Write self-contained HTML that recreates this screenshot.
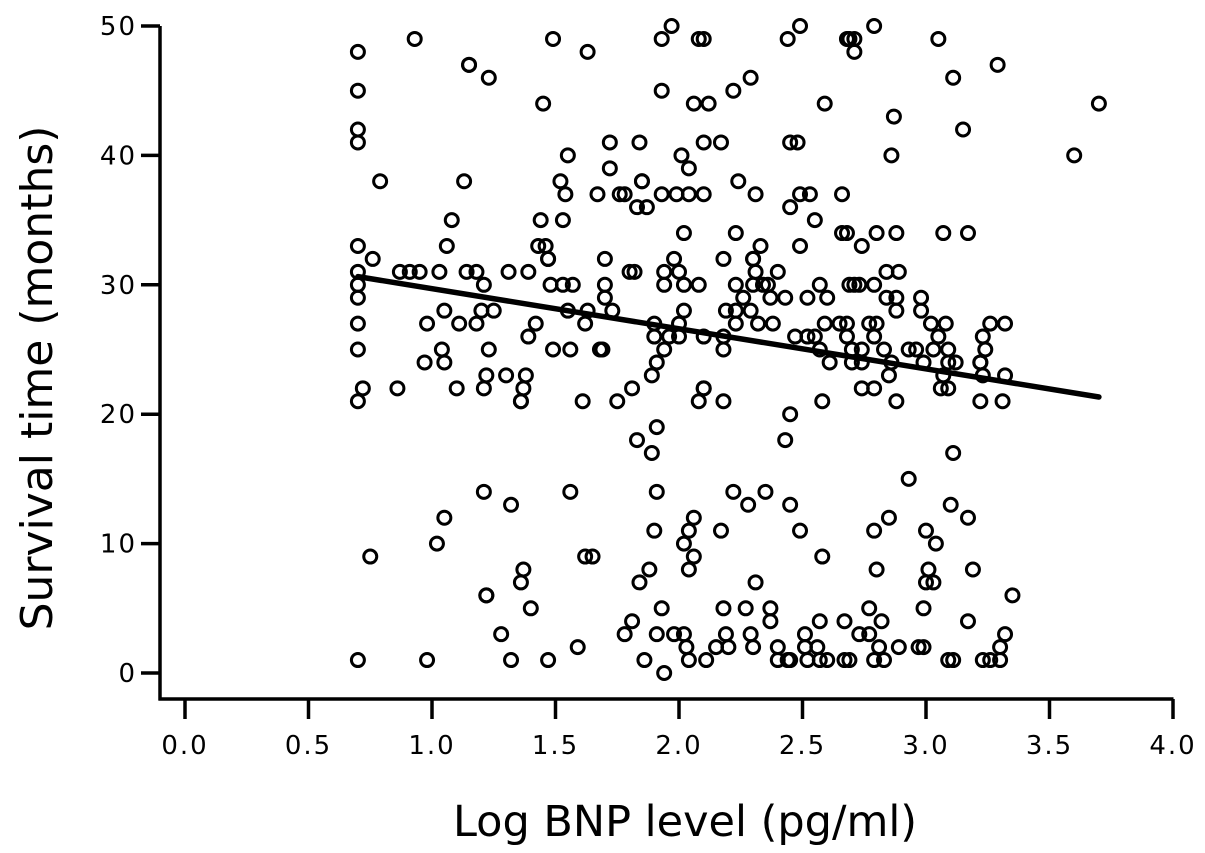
<!DOCTYPE html>
<html><head><meta charset="utf-8"><style>
html,body{margin:0;padding:0;background:#fff;width:1205px;height:853px;overflow:hidden}
svg text{font-family:"DejaVu Sans","Liberation Sans",sans-serif;fill:#000}
</style></head><body>
<svg id="chart" width="1205" height="853" viewBox="0 0 1205 853">
<g id="axes"></g>
<g id="points"></g>
<g id="fit"></g>
<text x="685" y="836" text-anchor="middle" font-size="43">Log BNP level (pg/ml)</text>
<text transform="translate(52,378) rotate(-90)" text-anchor="middle" font-size="44">Survival time (months)</text>
</svg>
<script>
const xTicks=[0.0,0.5,1.0,1.5,2.0,2.5,3.0,3.5,4.0];
const xTickLabels=["0.0","0.5","1.0","1.5","2.0","2.5","3.0","3.5","4.0"];
const yTicks=[0,10,20,30,40,50];
const yTickLabels=["0","10","20","30","40","50"];
const logBNP=[
0.70,0.70,0.70,0.70,0.70,0.70,0.70,0.70,0.70,0.70,0.70,0.70,
0.93,1.15,1.15,1.23,1.49,1.63,1.45,1.55,0.79,1.13,1.52,1.54,1.67,1.08,1.44,1.53,1.06,1.43,1.46,1.47,1.47,0.76,
0.87,0.91,0.95,1.03,1.14,1.18,1.31,1.39,1.21,1.48,1.53,1.57,1.05,1.20,1.25,1.55,1.63,0.98,1.11,1.18,1.42,1.62,1.39,1.04,1.23,1.49,1.56,1.68,
0.97,1.05,0.72,0.86,1.10,1.21,1.22,1.30,1.38,1.37,1.36,1.36,1.61,1.21,1.56,1.32,1.05,1.02,0.75,1.62,1.65,1.37,1.36,1.22,1.22,1.40,1.28,1.59,0.98,1.32,1.47,
1.97,1.93,2.08,2.10,2.44,2.49,2.69,1.93,2.06,2.12,2.22,2.29,2.59,1.72,1.84,2.10,2.17,2.45,2.48,2.01,2.04,1.72,1.85,1.85,2.24,
1.76,1.78,1.93,1.99,2.04,2.10,2.31,2.49,2.53,2.66,1.83,1.87,2.45,2.55,2.02,2.23,2.66,2.68,2.33,2.49,1.70,1.98,2.18,2.30,2.30,
1.80,1.82,1.94,2.00,2.31,2.40,1.70,1.94,2.02,2.08,2.23,2.30,2.34,2.36,2.57,2.69,1.70,2.26,2.37,2.43,2.52,2.60,1.73,2.02,2.19,2.23,2.29,
1.90,2.00,2.23,2.32,2.38,2.59,2.65,2.68,1.90,1.96,2.00,2.10,2.18,2.47,2.52,2.55,1.69,1.94,2.18,2.57,
1.91,1.89,1.81,1.75,2.10,2.10,2.08,2.18,2.61,2.45,2.58,2.43,1.91,1.83,1.89,1.91,2.22,2.35,2.28,2.45,2.06,1.90,2.04,2.17,2.49,2.02,2.06,2.58,
2.04,1.88,1.84,2.31,1.93,2.18,2.27,2.37,2.37,1.81,2.57,2.67,1.78,1.91,1.98,2.02,2.19,2.29,2.51,2.03,2.15,2.20,2.30,2.40,2.51,2.56,
1.86,2.04,2.11,2.40,2.44,2.45,2.52,2.57,2.60,2.67,2.69,1.94,
2.79,2.68,2.71,2.71,3.05,3.29,3.11,3.70,2.87,3.15,2.86,3.60,2.80,2.88,3.07,3.17,2.74,2.84,2.89,2.71,2.73,2.79,2.84,2.88,2.98,2.88,2.98,
2.77,2.80,3.02,3.08,3.26,3.32,2.68,2.79,3.05,3.23,2.70,2.74,2.83,2.93,2.96,3.03,3.09,3.24,
2.70,2.74,2.86,2.99,3.09,3.12,3.22,3.22,2.85,3.07,3.23,3.32,2.74,2.79,3.06,3.09,2.88,3.22,3.31,3.11,2.93,3.10,3.17,2.85,2.79,3.00,3.04,
2.80,3.01,3.19,3.00,3.03,3.35,2.77,2.99,2.82,3.17,2.73,2.77,3.32,2.81,2.89,2.97,2.99,3.30,2.79,2.83,3.09,3.11,3.23,3.26,3.30];
const survival=[
48,45,42,41,33,31,30,29,27,25,21,1,
49,47,47,46,49,48,44,40,38,38,38,37,37,35,35,35,33,33,33,32,32,32,
31,31,31,31,31,31,31,31,30,30,30,30,28,28,28,28,28,27,27,27,27,27,26,25,25,25,25,25,
24,24,22,22,22,22,23,23,23,22,21,21,21,14,14,13,12,10,9,9,9,8,7,6,6,5,3,2,1,1,1,
50,49,49,49,49,50,49,45,44,44,45,46,44,41,41,41,41,41,41,40,39,39,38,38,38,
37,37,37,37,37,37,37,37,37,37,36,36,36,35,34,34,34,34,33,33,32,32,32,32,32,
31,31,31,31,31,31,30,30,30,30,30,30,30,30,30,30,29,29,29,29,29,29,28,28,28,28,28,
27,27,27,27,27,27,27,27,26,26,26,26,26,26,26,26,25,25,25,25,
24,23,22,21,22,22,21,21,24,20,21,18,19,18,17,14,14,14,13,13,12,11,11,11,11,10,9,9,
8,8,7,7,5,5,5,5,4,4,4,4,3,3,3,3,3,3,3,2,2,2,2,2,2,2,
1,1,1,1,1,1,1,1,1,1,1,0,
50,49,49,48,49,47,46,44,43,42,40,40,34,34,34,34,33,31,31,30,30,30,29,29,29,28,28,
27,27,27,27,27,27,26,26,26,26,25,25,25,25,25,25,25,25,
24,24,24,24,24,24,24,24,23,23,23,23,22,22,22,22,21,21,21,17,15,13,12,12,11,11,10,
8,8,8,7,7,6,5,5,4,4,3,3,3,2,2,2,2,2,1,1,1,1,1,1,1];
const fitIntercept=32.8, fitSlope=-3.1;
const fitRange=[0.70,3.70];

const NS="http://www.w3.org/2000/svg";
const X0=185, XS=247, Y0=673, YS=12.94;
function sx(v){return X0+v*XS;}
function sy(v){return Y0-v*YS;}
function mk(tag,attrs,parent){const e=document.createElementNS(NS,tag);for(const k in attrs)e.setAttribute(k,attrs[k]);parent.appendChild(e);return e;}

const axes=document.getElementById('axes');
let a=mk('line',{x1:160,y1:26,x2:160,y2:700.5,stroke:'#000','stroke-width':3.5},axes);


a=mk('line',{x1:158.5,y1:699,x2:1173.5,y2:699,stroke:'#000','stroke-width':3.5},axes);


xTicks.forEach((v,i)=>{
  const t=mk('line',{x1:sx(v),y1:699,x2:sx(v),y2:719,stroke:'#000','stroke-width':3.5},axes);
  
  
  const l=mk('text',{x:sx(v),y:754,'text-anchor':'middle','font-size':26,'letter-spacing':2},axes);
  l.textContent=xTickLabels[i];
  
  
});
yTicks.forEach((v,i)=>{
  const t=mk('line',{x1:141,y1:sy(v),x2:160,y2:sy(v),stroke:'#000','stroke-width':3.5},axes);
  
  
  const l=mk('text',{x:137,y:sy(v)+9,'text-anchor':'end','font-size':26,'letter-spacing':2},axes);
  l.textContent=yTickLabels[i];
  
  
});
const pts=document.getElementById('points');
const n=Math.min(logBNP.length,survival.length);
for(let i=0;i<n;i++){
  const c=mk('circle',{cx:sx(logBNP[i]),cy:sy(survival[i]),r:6.5,fill:'none',stroke:'#000','stroke-width':3},pts);
  
  
}
const fit=document.getElementById('fit');
const ln=mk('line',{x1:sx(fitRange[0]),y1:sy(fitIntercept+fitSlope*fitRange[0]),x2:sx(fitRange[1]),y2:sy(fitIntercept+fitSlope*fitRange[1]),stroke:'#000','stroke-width':5.5,'stroke-linecap':'round'},fit);


</script>
</body></html>
